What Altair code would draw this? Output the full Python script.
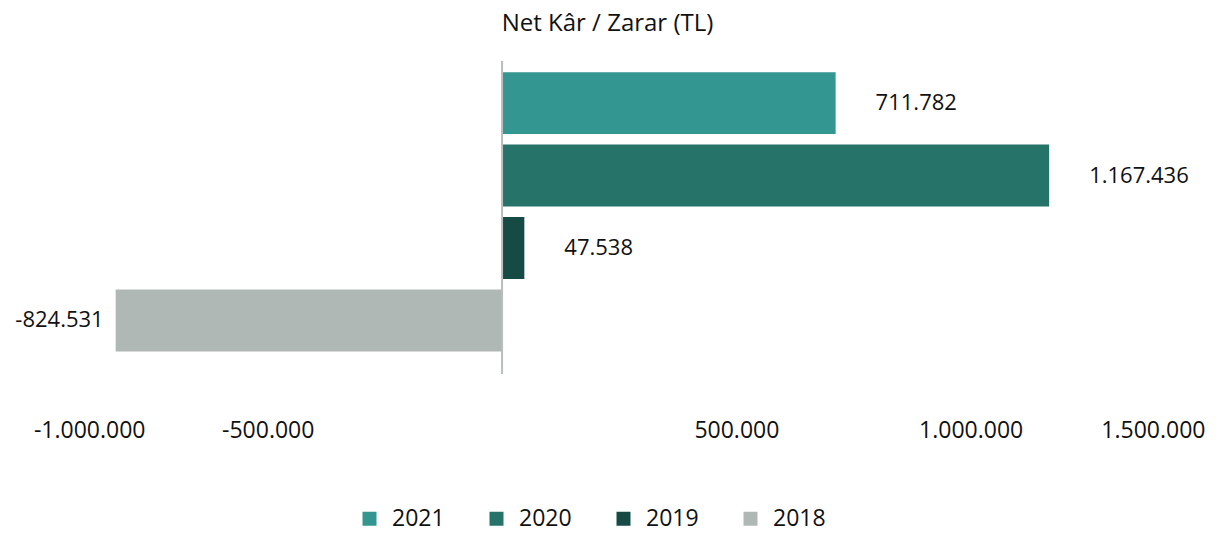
import altair as alt
import pandas as pd

years = ["2021", "2020", "2019", "2018"]
values = [711782, 1167436, 47538, -824531]
colors = ["#339690", "#26736a", "#164a45", "#b0b8b6"]
tick_values = [-1000000, -500000, 500000, 1000000, 1500000]
x_domain = [-1050000, 1500000]


def tr_format(v):
    return f"{v:,}".replace(",", ".")


df = pd.DataFrame({"year": years, "value": values, "label": [tr_format(v) for v in values]})
zero_df = pd.DataFrame({"value": [0]})

FONT = "Open Sans"
TXT = "#111111"
FS = 23

x_enc = alt.X(
    "value:Q",
    scale=alt.Scale(domain=x_domain, nice=False, zero=False),
    axis=alt.Axis(
        values=tick_values,
        title=None,
        grid=False,
        domain=False,
        ticks=False,
        labelExpr="replace(replace(format(datum.value, ','), regexp(',', 'g'), '.'), '\u2212', '-')",
        labelFlush=30,
        labelPadding=45,
        labelFontSize=FS,
        labelColor=TXT,
        labelFont=FONT,
    ),
)
y_enc = alt.Y(
    "year:N",
    sort=years,
    scale=alt.Scale(paddingInner=0.145, paddingOuter=0.233, align=0.33),
    axis=None,
)

base = alt.Chart(df)

bars = base.mark_bar().encode(
    x=x_enc,
    y=y_enc,
    color=alt.Color(
        "year:N",
        sort=years,
        scale=alt.Scale(domain=years, range=colors),
        legend=alt.Legend(
            orient="none",
            legendX=348,
            legendY=446,
            direction="horizontal",
            title=None,
            symbolType="square",
            symbolSize=196,
            symbolStrokeWidth=0,
            labelFontSize=FS,
            labelFont=FONT,
            labelColor=TXT,
            labelOffset=11,
            labelLimit=0,
            columnPadding=40,
        ),
    ),
)

rule = alt.Chart(zero_df).mark_rule(color="#b8bebd", strokeWidth=2).encode(x=x_enc)

pos_text = base.transform_filter("datum.value > 0").mark_text(
    align="left", baseline="middle", dx=40, fontSize=22, font=FONT, color=TXT
).encode(x=x_enc, y=y_enc, text="label:N")

neg_text = base.transform_filter("datum.value < 0").mark_text(
    align="right", baseline="middle", dx=-12, fontSize=22, font=FONT, color=TXT
).encode(x=x_enc, y=y_enc, text="label:N")

chart = (
    alt.layer(bars, rule, pos_text, neg_text)
    .properties(
        width=1195,
        height=313,
        padding={"left": 2, "top": 4, "right": 0, "bottom": 4},
        title=alt.TitleParams(
            "Net Kâr / Zarar (TL)",
            fontSize=24,
            font=FONT,
            fontWeight="normal",
            color=TXT,
            anchor="middle",
            offset=24,
        ),
    )
    .configure_view(stroke=None)
)

chart.save("out.html", embed_options={"renderer": "svg", "actions": False})
